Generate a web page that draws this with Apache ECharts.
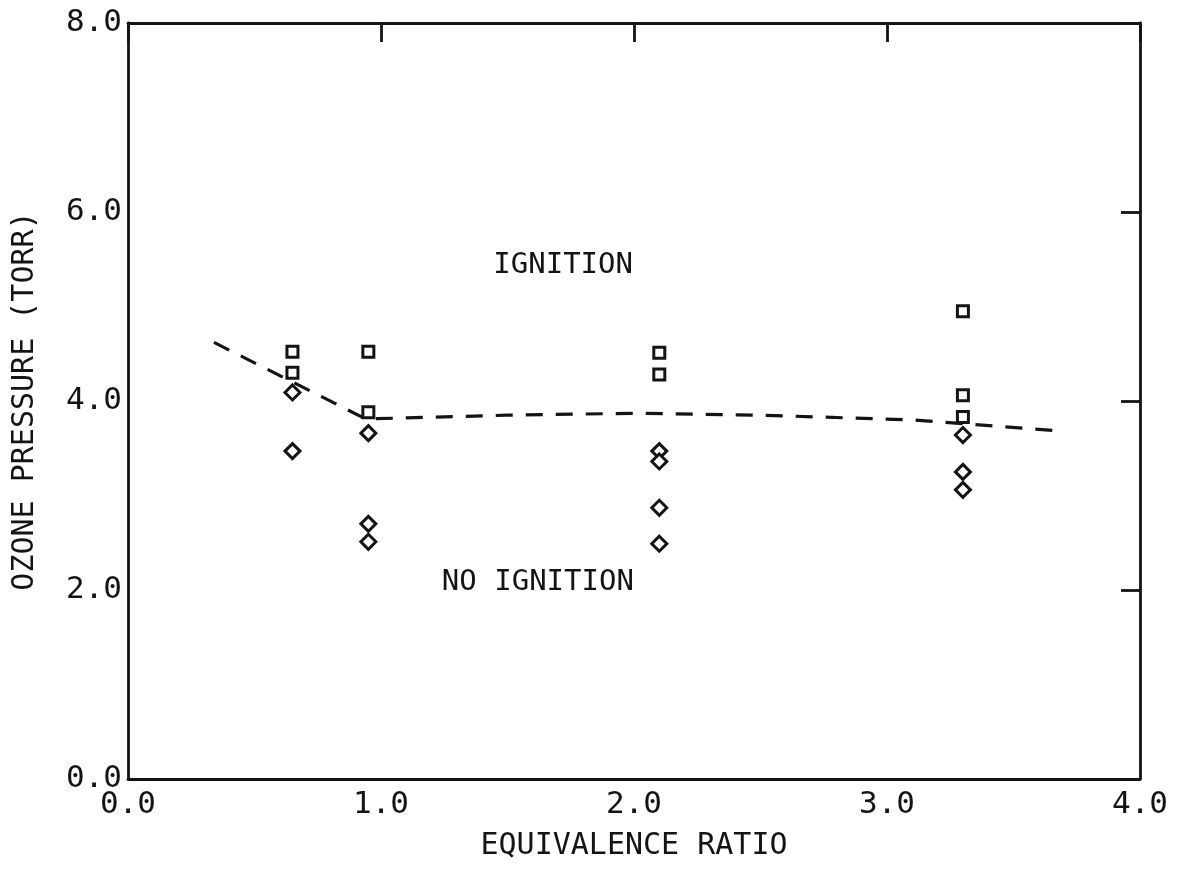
<!DOCTYPE html>
<html>
<head>
<meta charset="utf-8">
<script src="https://cdn.jsdelivr.net/npm/echarts@6/dist/echarts.min.js"></script>
<style>
html,body{margin:0;padding:0;background:#fff;}
#c{width:1182px;height:871px;}
</style>
</head>
<body>
<div id="c"></div>
<script>
// ---- data ----
const xTicks = [0, 1, 2, 3, 4];
const yTicks = [0, 2, 4, 6, 8];
// Ignition (squares): [equivalence ratio, ozone pressure]
const ignitionPts = [
  [0.65, 4.52], [0.65, 4.30],
  [0.95, 4.52], [0.95, 3.88],
  [2.10, 4.51], [2.10, 4.28],
  [3.30, 4.95], [3.30, 4.06], [3.30, 3.83]
];
// No ignition (diamonds)
const noIgnitionPts = [
  [0.65, 4.09], [0.65, 3.47],
  [0.95, 3.66], [0.95, 2.70], [0.95, 2.51],
  [2.10, 3.47], [2.10, 3.36], [2.10, 2.87], [2.10, 2.49],
  [3.30, 3.64], [3.30, 3.25], [3.30, 3.06]
];
// Dashed boundary line
const boundaryPts = [
  [0.34, 4.62], [0.94, 3.81], [1.50, 3.85], [2.00, 3.87],
  [2.50, 3.85], [3.10, 3.80], [3.70, 3.68]
];
const regionLabels = [
  {name: 'IGNITION', coord: [1.72, 5.43]},
  {name: 'NO IGNITION', coord: [1.62, 2.08]}
];
const xTitle = 'EQUIVALENCE RATIO';
const yTitle = 'OZONE PRESSURE (TORR)';

const FONT = '"DejaVu Sans Mono", "Liberation Mono", monospace';
const INK = '#141414';

const chart = echarts.init(document.getElementById('c'), null, {renderer: 'canvas'});
const fmt = v => v.toFixed(1);

chart.setOption({
  backgroundColor: '#ffffff',
  animation: false,
  grid: {left: 128, right: 42, top: 23, bottom: 92, containLabel: false},
  xAxis: [
    {
      type: 'value', min: 0, max: 4, interval: 1, position: 'bottom',
      name: xTitle, nameLocation: 'middle', nameGap: 52,
      nameTextStyle: {fontFamily: FONT, fontSize: 30, color: INK},
      axisLine: {show: true, onZero: false, lineStyle: {color: INK, width: 2.8}},
      axisTick: {show: false},
      splitLine: {show: false},
      axisLabel: {fontFamily: FONT, fontSize: 31, color: INK, margin: 10,
        formatter: v => xTicks.includes(v) ? fmt(v) : ''}
    },
    {
      type: 'value', min: 0, max: 4, interval: 1, position: 'top',
      axisLine: {show: true, onZero: false, lineStyle: {color: INK, width: 2.8}},
      axisTick: {show: true, inside: true, length: 19, lineStyle: {color: INK, width: 2.8}},
      axisLabel: {show: false},
      splitLine: {show: false}
    }
  ],
  yAxis: [
    {
      type: 'value', min: 0, max: 8, interval: 2, position: 'left',
      name: yTitle, nameLocation: 'middle', nameGap: 88, nameRotate: 90,
      nameTextStyle: {fontFamily: FONT, fontSize: 30, color: INK},
      axisLine: {show: true, onZero: false, lineStyle: {color: INK, width: 2.8}},
      axisTick: {show: false},
      splitLine: {show: false},
      axisLabel: {fontFamily: FONT, fontSize: 31, color: INK, margin: 6,
        formatter: v => yTicks.includes(v) ? fmt(v) : ''}
    },
    {
      type: 'value', min: 0, max: 8, interval: 2, position: 'right',
      axisLine: {show: true, onZero: false, lineStyle: {color: INK, width: 2.8}},
      axisTick: {show: true, inside: true, length: 19, lineStyle: {color: INK, width: 2.8}},
      axisLabel: {show: false},
      splitLine: {show: false}
    }
  ],
  series: [
    {
      name: 'boundary', type: 'line', data: boundaryPts,
      xAxisIndex: 0, yAxisIndex: 0,
      symbol: 'none', smooth: false,
      lineStyle: {color: INK, width: 3.2, type: [17, 13]},
      z: 1
    },
    {
      name: 'ignition', type: 'scatter', data: ignitionPts,
      xAxisIndex: 0, yAxisIndex: 0,
      symbol: 'rect', symbolSize: 11,
      itemStyle: {color: '#ffffff', borderColor: INK, borderWidth: 3, opacity: 1},
      z: 3
    },
    {
      name: 'no ignition', type: 'scatter', data: noIgnitionPts,
      xAxisIndex: 0, yAxisIndex: 0,
      symbol: 'diamond', symbolSize: 15,
      itemStyle: {color: '#ffffff', borderColor: INK, borderWidth: 3, opacity: 1},
      z: 3
    },
    {
      name: 'labels', type: 'scatter',
      xAxisIndex: 0, yAxisIndex: 0,
      data: regionLabels.map(l => ({name: l.name, value: l.coord})),
      symbolSize: 0,
      itemStyle: {opacity: 1},
      label: {show: true, position: 'inside', formatter: p => p.name,
        fontFamily: FONT, fontSize: 29, color: INK, opacity: 1},
      silent: true, z: 4
    }
  ]
});
</script>
</body>
</html>
